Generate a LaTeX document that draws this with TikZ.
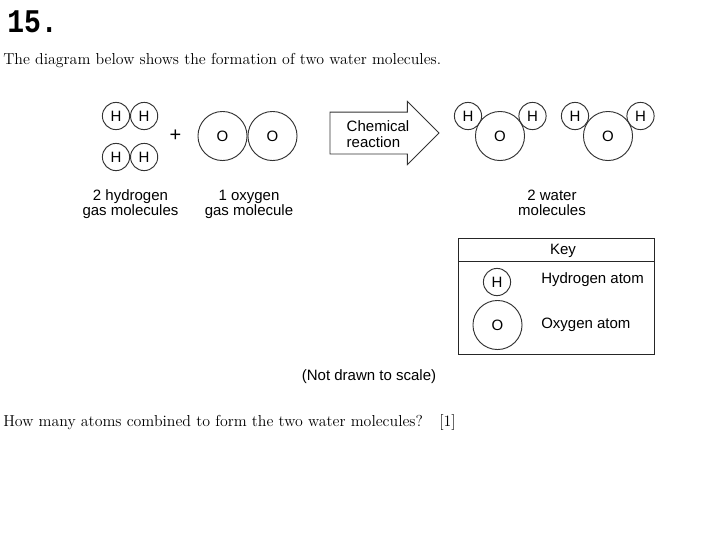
\documentclass[tikz,border=0pt]{standalone}
\usepackage{fontspec}
\setsansfont{Liberation Sans}
\newfontfamily\numfont{Liberation Mono}
\usetikzlibrary{positioning, shapes.arrows}

\begin{document}
\begin{tikzpicture}[
  x=0.75pt, y=-0.75pt,
  node distance = 0mm,
  hatom/.style = {
    circle, draw=black!80, line width=0.7pt, inner sep=0pt,
    minimum size=20.4pt, font=\sffamily\fontsize{11.25}{12}\selectfont
  },
  oatom/.style = {
    circle, draw=black!80, line width=0.7pt, inner sep=0pt,
    minimum size=36.8pt, font=\sffamily\fontsize{11.25}{12}\selectfont
  },
  lbl/.style = {
    inner sep=0pt, align=center, font=\sffamily\fontsize{11.25}{11.4}\selectfont
  },
  para/.style = {
    inner sep=0pt, anchor=base west, font=\rmfamily\fontsize{11.9}{15}\selectfont
  }
]
\useasboundingbox (0,0) rectangle (720,540);

\node[inner sep=0pt, anchor=base west, font=\numfont\bfseries\fontsize{21}{21}\selectfont] (num) at (7,32) {\scalebox{1}[1.18]{15.}};
\node[para] (intro) at (3,64.5) {The diagram below shows the formation of two water molecules.};

% hydrogen and oxygen
\node[hatom] (h1) at (116,116) {H};
\node[hatom, right=of h1] (h2) {H};
\node[hatom] (h3) at (116,157) {H};
\node[hatom, right=of h3] (h4) {H};
\node[lbl, font=\sffamily\fontsize{15}{15}\selectfont] (plus) at (175.5,136) {+};
\node[oatom] (o1) at (222.5,136) {O};
\node[oatom, right=of o1] (o2) {O};
\node[lbl] (hlab) at (130.5,204) {2 hydrogen\\gas molecules};
\node[lbl] (olab) at (249,204) {1 oxygen\\gas molecule};

% arrow
\node[single arrow, draw=black!80, line width=0.7pt, inner sep=0pt,
  minimum height=81.7pt, minimum width=46.5pt,
  single arrow tip angle=90, single arrow head extend=7.9pt] (arrow) at (374,133) {\rule{0pt}{30.75pt}};
\node[lbl, align=left] (chem) at (378,134) {Chemical\\[0.6pt]reaction};

% water
\node[oatom] (w1) at (500,136) {O};
\node[hatom] (w1a) at (468,116) {H};
\node[hatom] (w1b) at (532.5,116) {H};
\node[oatom] (w2) at (608,136) {O};
\node[hatom] (w2a) at (575,116) {H};
\node[hatom] (w2b) at (640.5,116) {H};
\node[lbl] (wlab) at (552,202.5) {2 water\\molecules};

% key
\draw[black!85, line width=0.7pt] (458,238) rectangle (654,354);
\draw[black!85, line width=0.7pt] (458,261) -- (654,261);
\node[lbl] (key) at (563,250.5) {Key};
\node[hatom] (kh) at (497,282) {H};
\node[oatom] (ko) at (497.5,325) {O};
\node[lbl, anchor=west] (khlab) at (541,280) {Hydrogen atom};
\node[lbl, anchor=west] (kolab) at (541,325) {Oxygen atom};

\node[lbl] (scale) at (369,376.5) {(Not drawn to scale)};
\node[para] (quest) at (3,426.5) {How many atoms combined to form the two water molecules?\hspace{0.6em} [1]};
\end{tikzpicture}
\end{document}
